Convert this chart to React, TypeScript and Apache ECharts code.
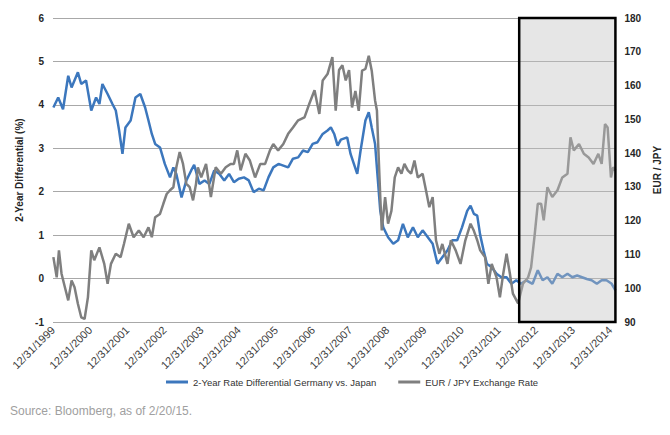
import React, { useEffect, useRef } from "react";
import * as echarts from "echarts";

// Decimal years: 2000.0 = 12/31/1999
const spreadYears = [
  2000.01, 2000.14, 2000.27, 2000.41, 2000.5, 2000.67, 2000.76, 2000.89, 2001.03, 2001.16,
  2001.25, 2001.33, 2001.47, 2001.6, 2001.69, 2001.78, 2001.87, 2001.95, 2002.09, 2002.22,
  2002.35, 2002.48, 2002.57, 2002.66, 2002.75, 2002.88, 2003.01, 2003.15, 2003.24, 2003.32,
  2003.46, 2003.59, 2003.72, 2003.8, 2003.94, 2004.08, 2004.21, 2004.34, 2004.48, 2004.61,
  2004.74, 2004.87, 2005.0, 2005.14, 2005.27, 2005.4, 2005.54, 2005.67, 2005.8, 2005.93,
  2006.07, 2006.2, 2006.33, 2006.46, 2006.6, 2006.73, 2006.86, 2006.99, 2007.12, 2007.26,
  2007.39, 2007.48, 2007.57, 2007.66, 2007.75, 2007.92, 2008.01, 2008.1, 2008.19, 2008.28,
  2008.41, 2008.5, 2008.58, 2008.67, 2008.74, 2008.81, 2008.89, 2009.02, 2009.16, 2009.29,
  2009.42, 2009.55, 2009.69, 2009.82, 2009.95, 2010.09, 2010.22, 2010.35, 2010.48, 2010.62,
  2010.75, 2010.88, 2011.01, 2011.15, 2011.24, 2011.33, 2011.42, 2011.5, 2011.59, 2011.68,
  2011.81, 2011.94, 2012.07, 2012.21, 2012.34, 2012.47, 2012.6, 2012.74, 2012.91, 2013.05,
  2013.18, 2013.31, 2013.44, 2013.58, 2013.71, 2013.85, 2013.98, 2014.11, 2014.24, 2014.37,
  2014.5, 2014.64, 2014.77, 2014.9, 2015.04, 2015.14,
];
const spreadValues = [
  3.94, 4.17, 3.9, 4.67, 4.4, 4.75, 4.48, 4.56, 3.87, 4.17,
  4.02, 4.48, 4.25, 4.02, 3.87, 3.41, 2.87, 3.48, 3.64, 4.17,
  4.25, 3.94, 3.64, 3.33, 3.1, 3.02, 2.64, 2.33, 2.56, 2.41,
  1.87, 2.26, 2.49, 2.62, 2.18, 2.26, 2.18, 2.49, 2.41, 2.26,
  2.41, 2.22, 2.3, 2.33, 2.26, 1.99, 2.07, 2.03, 2.33, 2.56,
  2.64, 2.6, 2.56, 2.76, 2.79, 2.95, 2.91, 3.1, 3.14, 3.33,
  3.41, 3.48, 3.33, 3.06, 3.2, 3.25, 2.87, 2.64, 2.41, 2.95,
  3.64, 3.83, 3.48, 3.1, 2.33, 1.56, 1.18, 0.95, 0.8, 0.88,
  1.26, 0.95, 1.18, 0.95, 1.11, 0.95, 0.8, 0.34, 0.49, 0.65,
  0.88, 0.88, 1.18, 1.56, 1.68, 1.49, 1.45, 1.0, 0.65, 0.34,
  0.26, 0.11, 0.03, 0.03, -0.12, -0.04, -0.12, -0.04, -0.12, 0.19,
  -0.04, 0.03, -0.12, 0.11, 0.03, 0.11, 0.03, 0.07, 0.03, -0.01,
  -0.04, -0.12, -0.04, -0.04, -0.12, -0.27,
];

const fxYears = [
  2000.01, 2000.1, 2000.16, 2000.23, 2000.32, 2000.41, 2000.5, 2000.58, 2000.67, 2000.76,
  2000.85, 2000.94, 2001.03, 2001.11, 2001.25, 2001.38, 2001.47, 2001.56, 2001.69, 2001.82,
  2001.91, 2002.04, 2002.17, 2002.31, 2002.44, 2002.57, 2002.66, 2002.75, 2002.88, 2002.97,
  2003.06, 2003.15, 2003.24, 2003.32, 2003.41, 2003.5, 2003.59, 2003.68, 2003.77, 2003.85,
  2003.9, 2003.99, 2004.12, 2004.25, 2004.38, 2004.52, 2004.65, 2004.78, 2004.87, 2004.96,
  2005.05, 2005.18, 2005.3, 2005.44, 2005.58, 2005.71, 2005.84, 2005.93, 2006.06, 2006.2,
  2006.33, 2006.46, 2006.6, 2006.77, 2006.9, 2007.04, 2007.17, 2007.26, 2007.39, 2007.52,
  2007.61, 2007.7, 2007.79, 2007.88, 2007.97, 2008.05, 2008.14, 2008.23, 2008.32, 2008.41,
  2008.5, 2008.58, 2008.67, 2008.72, 2008.76, 2008.81, 2008.85, 2008.94, 2009.02, 2009.11,
  2009.2, 2009.29, 2009.38, 2009.46, 2009.55, 2009.64, 2009.73, 2009.82, 2009.95, 2010.04,
  2010.13, 2010.22, 2010.31, 2010.4, 2010.48, 2010.62, 2010.71, 2010.84, 2010.97, 2011.1,
  2011.24, 2011.33, 2011.42, 2011.5, 2011.63, 2011.72, 2011.81, 2011.94, 2012.03, 2012.12,
  2012.21, 2012.3, 2012.38, 2012.52, 2012.65, 2012.79, 2012.87, 2012.96, 2013.05, 2013.14,
  2013.21, 2013.31, 2013.44, 2013.58, 2013.71, 2013.85, 2013.93, 2014.02, 2014.16, 2014.29,
  2014.42, 2014.55, 2014.68, 2014.77, 2014.86, 2014.93, 2015.02, 2015.08, 2015.14,
];
const fxValues = [
  109.2, 103.2, 111.2, 104.3, 100.3, 96.4, 102.3, 100.3, 95.4, 91.4,
  90.9, 97.3, 111.2, 108.3, 112.1, 107.2, 101.3, 107.2, 110.2, 109.2,
  113.1, 119.1, 115.1, 117.1, 115.1, 118.0, 115.1, 121.0, 122.0, 125.0,
  127.9, 129.0, 129.9, 135.8, 140.3, 136.8, 130.9, 129.9, 126.0, 130.9,
  135.8, 132.8, 136.8, 127.0, 135.8, 133.9, 135.8, 136.8, 136.8, 140.8,
  134.9, 139.8, 137.8, 132.8, 136.8, 136.8, 140.8, 142.7, 140.8, 142.7,
  145.7, 147.6, 149.7, 150.6, 154.6, 158.6, 151.6, 161.5, 163.4, 168.4,
  152.6, 164.6, 166.0, 161.5, 164.6, 153.5, 158.4, 152.5, 164.4, 164.9,
  168.8, 164.4, 155.6, 152.6, 140.8, 127.0, 117.1, 127.0, 119.1, 122.9,
  132.8, 135.8, 133.9, 136.8, 134.9, 133.9, 137.8, 132.8, 133.9, 129.0,
  124.0, 127.0, 114.2, 110.2, 113.1, 107.2, 114.2, 111.2, 107.2, 114.2,
  119.1, 117.0, 114.2, 111.2, 109.2, 101.3, 107.2, 103.2, 97.3, 104.3,
  110.2, 104.3, 98.4, 95.5, 101.3, 103.2, 106.2, 115.1, 125.0, 125.0,
  120.1, 129.9, 127.0, 129.0, 132.8, 133.9, 144.7, 140.8, 142.7, 139.8,
  138.7, 136.8, 139.8, 136.8, 148.6, 147.6, 132.8, 135.8, 134.9,
];

const startYear = 2000; // = 12/31/1999
const endYear = 2015.14; // = 2/20/2015
const highlightStartYear = 2012.55;

const seriesNames = ["2-Year Rate Differential Germany vs. Japan", "EUR / JPY Exchange Rate"];

export default function App() {
  const ref = useRef<HTMLDivElement>(null);
  useEffect(() => {
    if (!ref.current) return;
    const chart = echarts.init(ref.current, undefined, { renderer: "svg" });
    const font = "'Liberation Sans', Arial, sans-serif";
    const option: any = {
      animation: false,
      backgroundColor: "#ffffff",
      grid: { left: 53, right: 46, top: 18, bottom: 113, containLabel: false },
      legend: {
        data: seriesNames,
        left: 161,
        top: 372,
        icon: "rect",
        itemWidth: 22,
        itemHeight: 3,
        itemGap: 22,
        itemStyle: { borderWidth: 0 },
        textStyle: { fontFamily: font, fontSize: 9.5, color: "#333" },
      },
      xAxis: {
        type: "value",
        min: startYear,
        max: endYear,
        interval: 1,
        axisLine: { show: false },
        axisTick: { show: false },
        splitLine: { show: false },
        axisLabel: {
          rotate: 45,
          margin: 6,
          fontFamily: font,
          fontSize: 11,
          color: "#404040",
          showMaxLabel: false,
          formatter: (v: number) => {
            const r = Math.round(v);
            if (Math.abs(v - r) > 1e-6) return "";
            return `12/31/${r - 1}`;
          },
        },
      },
      yAxis: [
        {
          type: "value",
          min: -1,
          max: 6,
          interval: 1,
          name: "2-Year Differential (%)",
          nameLocation: "middle",
          nameRotate: 90,
          nameGap: 28,
          nameTextStyle: { fontFamily: font, fontSize: 10, fontWeight: "bold", color: "#262626" },
          axisLine: { show: false },
          axisTick: { show: false },
          splitLine: { lineStyle: { color: "#a8a8a8", width: 1 } },
          axisLabel: { fontFamily: font, fontSize: 10, fontWeight: "bold", color: "#262626", margin: 9 },
        },
        {
          type: "value",
          min: 90,
          max: 180,
          interval: 10,
          name: "EUR / JPY",
          nameLocation: "middle",
          nameRotate: 90,
          nameGap: 34,
          nameTextStyle: { fontFamily: font, fontSize: 10, fontWeight: "bold", color: "#262626" },
          axisLine: { show: false },
          axisTick: { show: false },
          splitLine: { show: false },
          axisLabel: { fontFamily: font, fontSize: 10, fontWeight: "bold", color: "#262626", margin: 9 },
        },
      ],
      series: [
        {
          name: seriesNames[0],
          type: "line",
          yAxisIndex: 0,
          showSymbol: false,
          symbol: "none",
          z: 2,
          color: "#3c77bd",
          lineStyle: { width: 2.5, color: "#3c77bd" },
          data: spreadYears.map((y, i) => [y, spreadValues[i]]),
        },
        {
          name: seriesNames[1],
          type: "line",
          yAxisIndex: 1,
          showSymbol: false,
          symbol: "none",
          z: 3,
          color: "#7f7f7f",
          lineStyle: { width: 2.5, color: "#7f7f7f" },
          data: fxYears.map((y, i) => [y, fxValues[i]]),
        },
        {
          type: "line",
          yAxisIndex: 0,
          data: [],
          z: 10,
          silent: true,
          markArea: {
            silent: true,
            z: 10,
            itemStyle: { color: "rgba(192,192,192,0.4)", borderColor: "#000", borderWidth: 2.5 },
            data: [[{ xAxis: highlightStartYear }, { xAxis: endYear }]],
          },
        },
      ],
      graphic: [
        {
          type: "text",
          left: 10,
          top: 405,
          style: {
            text: "Source: Bloomberg, as of 2/20/15.",
            fontFamily: font,
            fontSize: 12,
            fill: "#a0a0a0",
          },
        },
      ],
    };
    chart.setOption(option);
    return () => chart.dispose();
  }, []);
  return (
    <div
      ref={ref}
      style={{ position: "fixed", left: 0, top: 0, width: 670, height: 435, background: "#fff" }}
    />
  );
}
